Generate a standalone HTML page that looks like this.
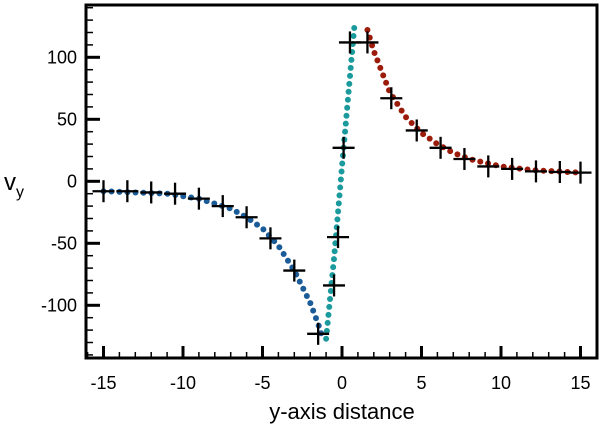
<!DOCTYPE html>
<html><head><meta charset="utf-8"><style>
body{margin:0;background:#fff;}
svg{display:block;font-family:"Liberation Sans",Arial,sans-serif;}
</style></head><body>
<svg id="c" width="600" height="433"></svg>
<script>
const xTicks=[-15,-10,-5,0,5,10,15];
const yTicks=[-100,-50,0,50,100];
const markX=[-15,-13.5,-12,-10.5,-9,-7.5,-6,-4.5,-3,-1.5,-0.5,-0.25,0.1,0.5,1.6,3.1,4.7,6.2,7.7,9.2,10.7,12.2,13.7,15];
const markY=[-8,-8,-9,-10,-14,-20,-29,-46,-72,-123,-84,-45,27,112,112,67,41,27,18,12,10,8,7.5,7];
const blueX=[-15,-13,-11,-9,-7,-6,-5,-4,-3,-2,-1.5,-1.2];
const blueY=[-8,-9,-10,-14,-22,-29,-38,-52,-72,-98,-115,-127];
const tealX=[-1,-0.5,0,0.4,0.8];
const tealY=[-127,-62,12,70,128];
const redX=[1.6,2,3,4,5,6,7,8,10,12,15];
const redY=[122,105,72,52,39,30,23,18,12,9,7];
const L=86,R=597,T=5,B=358;
const sx=v=>342+v*15.9, sy=v=>181.3-v*1.24;
const svg=document.getElementById('c');const NS='http://www.w3.org/2000/svg';
function mk(t,a,p){const e=document.createElementNS(NS,t);for(const k in a)e.setAttribute(k,a[k]);(p||svg).appendChild(e);return e;}
function line(x1,y1,x2,y2,w,p){return mk('line',{x1,y1,x2,y2,stroke:'#000','stroke-width':w},p);}
for(let v=-16;v<=16;v++){const x=sx(v);if(x<L||x>R)continue;const big=v%5===0;
 const t=line(x,B,x,B-(big?12:6),big?3:1.5);
 
 }
for(let v=-140;v<=140;v+=10){const y=sy(v);if(y<T||y>B)continue;const big=v%50===0;
 const t=line(L,y,L+(big?14:7),y,big?3:1.5);
 
 }
xTicks.forEach(v=>{const t=mk('text',{x:sx(v),y:389,'font-size':18,'text-anchor':'middle'});t.textContent=v;
 
 });
yTicks.forEach(v=>{const t=mk('text',{x:77,y:sy(v)+6,'font-size':18,'text-anchor':'end'});t.textContent=v;
 
 });
function curve(xs,ys,col,name){const d=xs.map((x,i)=>(i?'L':'M')+sx(x)+','+sy(ys[i])).join('');
 const p=mk('path',{d,fill:'none',stroke:col,'stroke-width':6,'stroke-linecap':'round','stroke-dasharray':'0 8'});
 
 }
curve(blueX,blueY,'#1b5c98','blue-fit-curve');
curve(tealX,tealY,'#1a9a9c','teal-fit-curve');
curve(redX,redY,'#9c1c0c','red-fit-curve');
markX.forEach((x,i)=>{const X=sx(x),Y=sy(markY[i]);
 const g=mk('g',{});
 
 
 line(X-11,Y,X+11,Y,2.3,g);
 line(X,Y-11,X,Y+11,2.3,g);});
const fr=mk('rect',{x:L,y:T,width:R-L,height:B-T,fill:'none',stroke:'#000','stroke-width':3});


const xl=mk('text',{x:342,y:419,'font-size':22,'text-anchor':'middle'});xl.textContent='y-axis distance';


const yl=mk('text',{x:4,y:190,'font-size':24});yl.innerHTML='v<tspan font-size="16" dy="7">y</tspan>';


</script>
</body></html>
